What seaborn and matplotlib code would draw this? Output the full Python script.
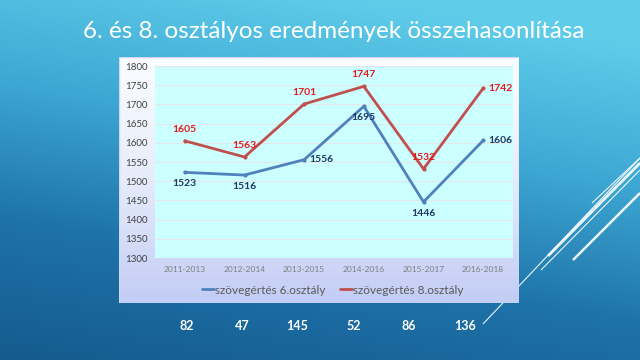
import numpy as np
import pandas as pd
import matplotlib
matplotlib.use("Agg")
import matplotlib.pyplot as plt
import seaborn as sns
from matplotlib.colors import LinearSegmentedColormap

# ==============================
# DATA
# ==============================

periods = ["2011-2013", "2012-2014", "2013-2015", "2014-2016", "2015-2017", "2016-2018"]
grade6 = [1523, 1516, 1556, 1695, 1446, 1606]
grade8 = [1605, 1563, 1701, 1747, 1532, 1742]
diffs = [82, 47, 145, 52, 86, 136]

label6 = "szövegértés 6.osztály"
label8 = "szövegértés 8.osztály"
title = "6. és 8. osztályos eredmények összehasonlítása"

df = pd.DataFrame({
    "period": periods * 2,
    "score": grade6 + grade8,
    "series": [label6] * len(periods) + [label8] * len(periods),
})

BLUE = "#4f81bd"
RED = "#c0504d"

# ==============================
# FIGURE + BACKGROUND
# ==============================

sns.set_theme(style="white")
plt.rcParams["font.family"] = ["Lato", "DejaVu Sans"]

fig = plt.figure(figsize=(6.4, 3.6), dpi=100)

bg = fig.add_axes([0, 0, 1, 1], zorder=0)
bg.axis("off")
yy, xx = np.mgrid[0:1:200j, 0:1:360j]
t = np.clip(0.85 * yy + 0.25 * (1 - xx) - 0.1, 0, 1)
bg_cmap = LinearSegmentedColormap.from_list("slide", ["#5fcdea", "#3ea8d4", "#1e73a8", "#155a8f"])
bg.imshow(t, cmap=bg_cmap, aspect="auto", extent=[0, 1, 0, 1], origin="upper", vmin=0, vmax=1)
bg.set_xlim(0, 1)
bg.set_ylim(0, 1)

# decorative lines on the right
deco = [
    ((483 / 640, 1 - 324 / 360), (640 / 640, 1 - 158 / 360), 0.8),
    ((548 / 640, 1 - 256 / 360), (640 / 640, 1 - 163 / 360), 2.0),
    ((541 / 640, 1 - 270 / 360), (640 / 640, 1 - 170 / 360), 0.8),
    ((573 / 640, 1 - 260 / 360), (640 / 640, 1 - 193 / 360), 1.8),
    ((592 / 640, 1 - 203 / 360), (640 / 640, 1 - 158 / 360), 0.8),
]
for (x0, y0), (x1, y1), lw in deco:
    bg.plot([x0, x1], [y0, y1], color="white", lw=lw, alpha=0.9, solid_capstyle="butt")

fig.text(334 / 640, 1 - 32 / 360, title, color="white", fontsize=17.5, ha="center", va="center")

# chart box with soft gradient
box = fig.add_axes([119 / 640, 1 - 303 / 360, 400 / 640, 246 / 360], zorder=1)
box.axis("off")
box_cmap = LinearSegmentedColormap.from_list("box", ["#fbfdff", "#e6ecfb", "#c3cdf5"])
box.imshow(np.linspace(0, 1, 100).reshape(-1, 1), cmap=box_cmap, aspect="auto",
           extent=[0, 1, 0, 1], origin="upper")
box.add_patch(plt.Rectangle((0, 0), 1, 1, fill=False, ec="#d0d8f0", lw=1, transform=box.transAxes))

# ==============================
# LINE CHART
# ==============================

ax = fig.add_axes([155 / 640, 1 - 258 / 360, 358 / 640, 192 / 360], zorder=2)
ax.set_facecolor("#ccffff")

sns.lineplot(data=df, x="period", y="score", hue="series",
             palette=[BLUE, RED], marker="o", markersize=3, markeredgewidth=0,
             linewidth=2, ax=ax, legend=False)

ax.set_xlim(-0.5, len(periods) - 0.5)
ax.set_ylim(1300, 1800)
ax.set_yticks(np.arange(1300, 1801, 50))
ax.yaxis.grid(True, color="#e0e8e8", lw=0.8)
ax.set_axisbelow(True)
for s in ax.spines.values():
    s.set_visible(False)
ax.tick_params(axis="y", labelsize=7, colors="#404040", length=0, pad=21.5)
for lbl in ax.get_yticklabels():
    lbl.set_ha("left")
ax.tick_params(axis="x", labelsize=6, colors="#7f7f7f", length=0, pad=6)
ax.set_xlabel("")
ax.set_ylabel("")

# data labels
pos6 = ["below", "below", "right", "below", "below", "right"]
pos8 = ["above", "above", "above", "above", "above", "right"]
for vals, pos, col in [(grade6, pos6, "#1f3864"), (grade8, pos8, "#e31a1c")]:
    for i, (v, p) in enumerate(zip(vals, pos)):
        if p == "above":
            ax.annotate(str(v), (i, v), xytext=(0, 5), textcoords="offset points",
                        ha="center", va="bottom", fontsize=7.5, fontweight="bold", color=col)
        elif p == "below":
            ax.annotate(str(v), (i, v), xytext=(0, -5), textcoords="offset points",
                        ha="center", va="top", fontsize=7.5, fontweight="bold", color=col)
        else:
            ax.annotate(str(v), (i, v), xytext=(4, 0), textcoords="offset points",
                        ha="left", va="center", fontsize=7.5, fontweight="bold", color=col)

# legend
handles = [plt.Line2D([], [], color=BLUE, lw=2), plt.Line2D([], [], color=RED, lw=2)]
fig.legend(handles, [label6, label8], loc="center", bbox_to_anchor=(0.52, 1 - 290 / 360),
           ncol=2, frameon=False, fontsize=8.5, labelcolor="#595959",
           handlelength=1.0, handletextpad=0.1, columnspacing=1.2)

# differences below the chart
diff_x = [187, 242, 297, 354, 409, 465]
for x, d in zip(diff_x, diffs):
    fig.text(x / 640, 1 - 326 / 360, str(d), color="white", fontsize=9,
             fontweight="bold", ha="center", va="center")

fig.savefig("out.png", dpi=100)
